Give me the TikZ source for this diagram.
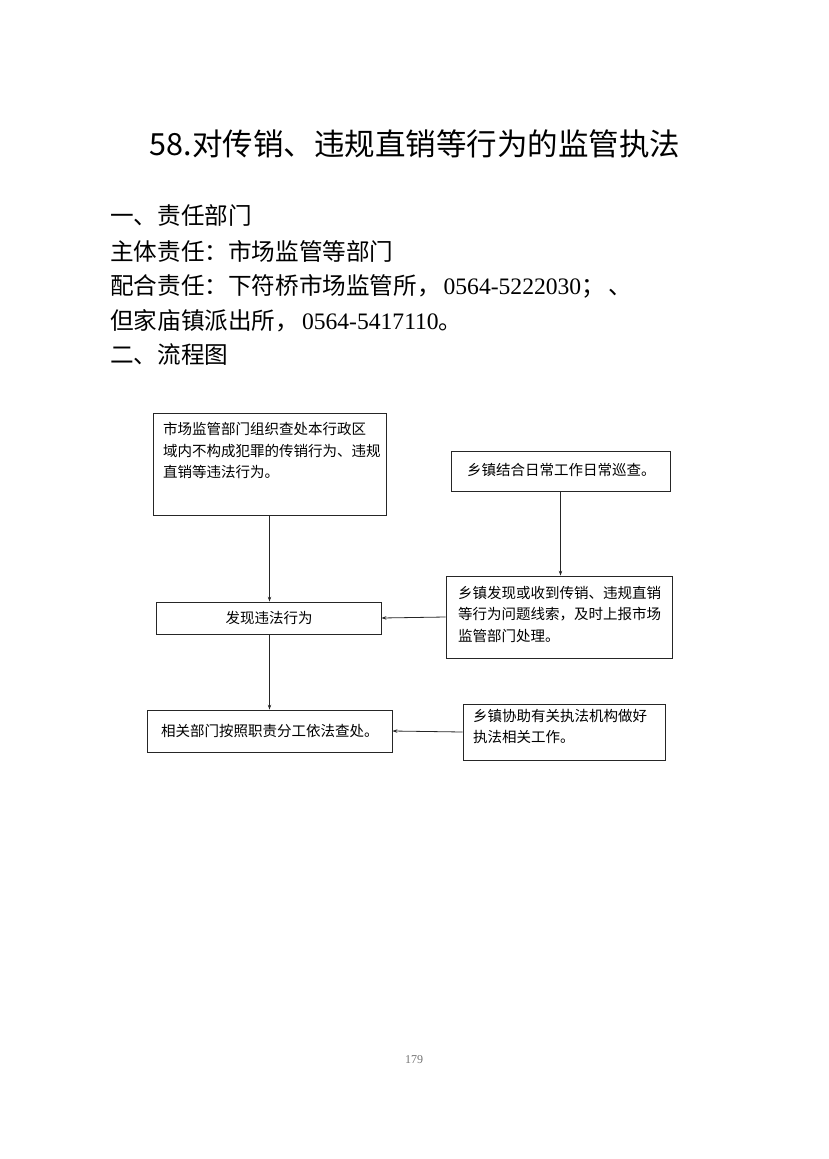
\documentclass[tikz,border=0pt]{standalone}
\usepackage{fontspec}
\setmainfont{Liberation Serif}
\newfontfamily\cjk{Noto Sans CJK SC}
\usetikzlibrary{arrows.meta}
\begin{document}
\begin{tikzpicture}[x=1pt,y=-1pt,
  box/.style={draw=black!85, line width=0.8pt, inner sep=0pt},
  boxtxt/.style={anchor=north west, inner sep=0pt, align=left, font=\cjk\fontsize{14.5}{21.5}\selectfont},
  headtxt/.style={anchor=west, inner sep=0pt, font=\fontsize{23.6}{26}\selectfont},
  arr/.style={draw=black!85, line width=0.8pt, -{Stealth[length=5pt,width=3.5pt]}}]
\useasboundingbox (0,0) rectangle (828,1159);
% title
\node[inner sep=0pt] (title) at (415,144) {\cjk\fontsize{30.5}{32}\selectfont 58.对传销、违规直销等行为的监管执法};
% header lines
\node[headtxt] (h1) at (110,216) {\cjk 一、责任部门};
\node[headtxt] (h2) at (110,251) {\cjk 主体责任：市场监管等部门};
\node[headtxt] (h3) at (110,286) {{\cjk 配合责任：下符桥市场监管所，}\hspace{3pt}0564-5222030{\cjk ；\hspace{4pt}、}};
\node[headtxt] (h4) at (110,321) {{\cjk 但家庙镇派出所，}\hspace{3pt}0564-5417110{\cjk 。}};
\node[headtxt] (h5) at (110,355) {\cjk 二、流程图};
% boxes
\node[box, minimum width=233pt, minimum height=102pt] (b1) at (269.5,464) {};
\node[boxtxt] (t1) at (163,422) {市场监管部门组织查处本行政区\\域内不构成犯罪的传销行为、违规\\直销等违法行为。};
\node[box, minimum width=219pt, minimum height=40pt] (b2) at (560.5,471) {};
\node[boxtxt, anchor=west] (t2) at (467,470) {乡镇结合日常工作日常巡查。};
\node[box, minimum width=225pt, minimum height=32pt] (b3) at (268.5,618) {};
\node[boxtxt, anchor=center] (t3) at (269,618) {发现违法行为};
\node[box, minimum width=226pt, minimum height=82pt] (b4) at (559,617) {};
\node[boxtxt] (t4) at (458,586) {乡镇发现或收到传销、违规直销\\等行为问题线索，及时上报市场\\监管部门处理。};
\node[box, minimum width=245pt, minimum height=42pt] (b5) at (269.5,731) {};
\node[boxtxt, anchor=west] (t5) at (161,731) {相关部门按照职责分工依法查处。};
\node[box, minimum width=202pt, minimum height=56pt] (b6) at (564,732) {};
\node[boxtxt] (t6) at (473,709) {乡镇协助有关执法机构做好\\执法相关工作。};
% connectors
\draw[arr] (b1.south) -- (b3.north -| b1.south);
\draw[arr] (b2.south) -- (b4.north -| b2.south);
\draw[arr] (b4.west) -- (b3.east);
\draw[arr] (b3.south -| b1.south) -- (b5.north -| b1.south);
\draw[arr] (b6.west) -- (b5.east);
% page number
\node[text=black!55, inner sep=0pt] (pg) at (414,1060) {\fontsize{12}{14}\selectfont 179};
\end{tikzpicture}
\end{document}
